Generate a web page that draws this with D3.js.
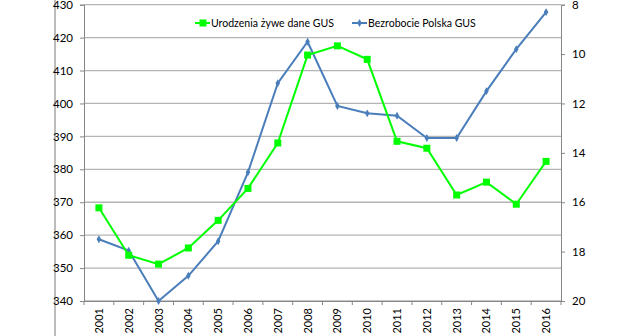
<!DOCTYPE html>
<html><head><meta charset="utf-8">
<script src="https://cdn.jsdelivr.net/npm/d3@7/dist/d3.min.js"></script>
<style>body{margin:0;background:#fff}svg{display:block}text{font-family:Lato,"Open Sans",sans-serif;fill:#000}</style>
</head><body><svg id="c" width="642" height="336"></svg>
<script>
const years = ["2001","2002","2003","2004","2005","2006","2007","2008","2009","2010","2011","2012","2013","2014","2015","2016"];
const births = [368.3,353.9,351.2,356.1,364.5,374.2,388.0,414.7,417.5,413.4,388.5,386.4,372.2,376.1,369.4,382.4];
const unemployment = [17.5,17.96,20.0,18.98,17.58,14.79,11.18,9.5,12.1,12.4,12.5,13.4,13.4,11.5,9.8,8.3];
const leftTicks = [340,350,360,370,380,390,400,410,420,430];
const rightTicks = [8,10,12,14,16,18,20];
const seriesNames = ["Urodzenia żywe dane GUS","Bezrobocie Polska GUS"];

const svg = d3.select("#c");
const L = 84, R = 561, T = 4.7, B = 301;
const x = d3.scaleBand().domain(years).range([L, R]);
const yL = d3.scaleLinear().domain([340,430]).range([B, T]);
const yR = d3.scaleLinear().domain([20,8]).range([B, T]);

// outer border line on left
svg.append("line").attr("x1",55).attr("x2",55).attr("y1",0).attr("y2",336).attr("stroke","#a6a6a6").attr("stroke-width",1.5);

// gridlines
svg.append("g").selectAll("line").data(leftTicks).join("line")
  .attr("x1",L).attr("x2",R).attr("y1",d=>yL(d)).attr("y2",d=>yL(d))
  .attr("stroke","#b4b4b4").attr("stroke-width",1.3);

// left axis
const gL = svg.append("g").attr("transform",`translate(${L},0)`)
  .call(d3.axisLeft(yL).tickValues(leftTicks).tickSize(4).tickPadding(7));
// right axis
const gR = svg.append("g").attr("transform",`translate(${R},0)`)
  .call(d3.axisRight(yR).tickValues(rightTicks).tickSize(4).tickPadding(7));
// bottom axis
const gB = svg.append("g").attr("transform",`translate(0,${B})`)
  .call(d3.axisBottom(x).tickSize(0).tickPadding(0));
gB.selectAll(".tick text").remove();
// category boundary ticks
svg.append("g").selectAll("line").data(d3.range(years.length+1)).join("line")
  .attr("x1",i=>L+i*x.step()).attr("x2",i=>L+i*x.step()).attr("y1",B).attr("y2",B+4)
  .attr("stroke","#868686");
svg.append("g").selectAll("text").data(years).join("text")
  .attr("transform",d=>`translate(${x(d)+x.bandwidth()/2+4},308) rotate(-90)`)
  .attr("text-anchor","end").attr("font-size",11).text(d=>d);

[gL,gR,gB].forEach(g=>{
  g.select(".domain").attr("stroke","#868686").attr("stroke-width",1);
  g.selectAll(".tick line").attr("stroke","#868686");
  g.selectAll(".tick text").attr("font-size",11.5).attr("font-family","Lato,sans-serif");
});

const cx = d => x(d)+x.bandwidth()/2;
// blue series
const blue = "#4a7ebb", green = "#00ff00";
svg.append("path").datum(unemployment)
  .attr("d", d3.line().x((d,i)=>cx(years[i])).y(d=>yR(d)))
  .attr("fill","none").attr("stroke",blue).attr("stroke-width",2);
svg.append("g").selectAll("path").data(unemployment).join("path")
  .attr("d", d3.symbol(d3.symbolDiamond, 18))
  .attr("transform",(d,i)=>`translate(${cx(years[i])},${yR(d)})`)
  .attr("fill",blue);
// green series
svg.append("path").datum(births)
  .attr("d", d3.line().x((d,i)=>cx(years[i])).y(d=>yL(d)))
  .attr("fill","none").attr("stroke",green).attr("stroke-width",2);
svg.append("g").selectAll("rect").data(births).join("rect")
  .attr("x",(d,i)=>cx(years[i])-3.5).attr("y",d=>yL(d)-3.5).attr("width",7).attr("height",7)
  .attr("fill",green);

// legend
function fit(t, w){ const n=t.node(); const l=n.getComputedTextLength(); if(l>0){ t.attr("font-size", 12*w/l); } }
const lg = svg.append("g");
lg.append("line").attr("x1",195).attr("x2",210).attr("y1",23).attr("y2",23).attr("stroke",green).attr("stroke-width",2);
lg.append("rect").attr("x",199.5).attr("y",19.5).attr("width",7).attr("height",7).attr("fill",green);
const t1 = lg.append("text").attr("x",211).attr("y",26.5).attr("font-size",12).text(seriesNames[0]);
fit(t1,123);
lg.append("line").attr("x1",352).attr("x2",367).attr("y1",23).attr("y2",23).attr("stroke",blue).attr("stroke-width",2);
lg.append("path").attr("d",d3.symbol(d3.symbolDiamond,18)).attr("transform","translate(359.5,23)").attr("fill",blue);
const t2 = lg.append("text").attr("x",368).attr("y",26.5).attr("font-size",12).text(seriesNames[1]);
fit(t2,108);
</script></body></html>
